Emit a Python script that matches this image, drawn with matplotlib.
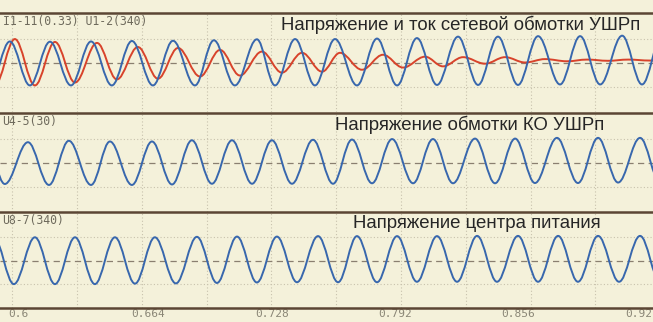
import numpy as np
import matplotlib.pyplot as plt
from matplotlib.path import Path
from matplotlib.patches import PathPatch

# extrema of each trace (time in s, value in grid units)
u12_t = [0.5907, 0.6010, 0.6114, 0.6218, 0.6327, 0.6431, 0.6539, 0.6643, 0.6752, 0.6856,
         0.6970, 0.7068, 0.7177, 0.7291, 0.7385, 0.7489, 0.7592, 0.7696, 0.7810, 0.7914,
         0.8018, 0.8121, 0.8225, 0.8334, 0.8438, 0.8541, 0.8645, 0.8749, 0.8863, 0.8967,
         0.9071, 0.9185, 0.9288, 0.9392]
u12_v = [-0.90, 0.90, -0.92, 0.89, -0.92, 0.90, -0.92, 0.92, -0.92, 0.93,
         -0.92, 0.95, -0.92, 0.99, -0.92, 1.00, -0.92, 1.00, -0.92, 1.02,
         -0.92, 1.04, -0.90, 1.10, -0.90, 1.10, -0.90, 1.12, -0.88, 1.12,
         -0.88, 1.14, -0.88, 1.14]

i111_t = [0.5933, 0.6036, 0.6140, 0.6244, 0.6348, 0.6462, 0.6565, 0.6674, 0.6778, 0.6882,
          0.6996, 0.7100, 0.7203, 0.7317, 0.7421, 0.7525, 0.7629, 0.7722, 0.7836, 0.7945,
          0.8049, 0.8163, 0.8256, 0.8360, 0.8474, 0.8578, 0.8682, 0.8785, 0.8899, 0.9003,
          0.9112, 0.9216, 0.9330, 0.9434]
i111_v = [-0.90, 1.00, -0.92, 0.88, -0.80, 0.84, -0.67, 0.67, -0.64, 0.63,
          -0.55, 0.55, -0.51, 0.48, -0.39, 0.43, -0.35, 0.43, -0.27, 0.35,
          -0.18, 0.27, -0.13, 0.25, -0.02, 0.25, 0.03, 0.17, 0.08, 0.15,
          0.10, 0.15, 0.11, 0.14]

u45_t = [0.5886, 0.5984, 0.6104, 0.6213, 0.6316, 0.6431, 0.6529, 0.6643, 0.6747, 0.6851,
         0.6954, 0.7058, 0.7162, 0.7266, 0.7369, 0.7473, 0.7582, 0.7686, 0.7784, 0.7888,
         0.7992, 0.8101, 0.8204, 0.8308, 0.8422, 0.8526, 0.8630, 0.8733, 0.8847, 0.8956,
         0.9060, 0.9164, 0.9278, 0.9382]
u45_v = [0.90, -0.86, 0.87, -0.90, 0.93, -0.90, 0.90, -0.90, 0.90, -0.88,
         0.95, -0.85, 0.95, -0.85, 0.95, -0.85, 0.97, -0.85, 0.98, -0.83,
         1.00, -0.83, 1.00, -0.83, 1.02, -0.83, 1.02, -0.82, 1.05, -0.82,
         1.05, -0.80, 1.05, -0.80]

u87_t = [0.5927, 0.6031, 0.6140, 0.6244, 0.6348, 0.6451, 0.6555, 0.6659, 0.6762, 0.6871,
         0.6980, 0.7084, 0.7188, 0.7291, 0.7395, 0.7499, 0.7608, 0.7712, 0.7810, 0.7914,
         0.8018, 0.8121, 0.8225, 0.8329, 0.8433, 0.8536, 0.8645, 0.8749, 0.8853, 0.8956,
         0.9060, 0.9169, 0.9278, 0.9382]
u87_v = [1.00, -1.00, 1.00, -1.00, 1.00, -1.00, 1.00, -0.98, 1.00, -0.97,
         1.02, -0.95, 1.03, -0.93, 1.03, -0.92, 1.05, -0.92, 1.05, -0.92,
         1.05, -0.90, 1.05, -0.90, 1.06, -0.90, 1.06, -0.90, 1.06, -0.90,
         1.06, -0.90, 1.06, -0.90]

tick_vals = [0.6, 0.664, 0.728, 0.792, 0.856, 0.92]
tick_labels = ["0.6", "0.664", "0.728", "0.792", "0.856", "0.92"]

channel_labels = ["I1-11(0.33) U1-2(340)", "U4-5(30)", "U8-7(340)"]
titles = ["Напряжение и ток сетевой обмотки УШРп",
          "Напряжение обмотки КО УШРп",
          "Напряжение центра питания"]

bg = "#f4f1da"
blue = "#3867ad"
red = "#d8432b"
border = "#5b4634"


def wave(t, v, a=0.364):
    # smooth half-waves between consecutive extrema (flat tangents at the extrema)
    verts = [(t[0], v[0])]
    codes = [Path.MOVETO]
    for i in range(len(t) - 1):
        dt = t[i + 1] - t[i]
        verts += [(t[i] + a * dt, v[i]), (t[i + 1] - a * dt, v[i + 1]), (t[i + 1], v[i + 1])]
        codes += [Path.CURVE4] * 3
    return Path(verts, codes)


fig = plt.figure(figsize=(6.53, 3.22), dpi=100, facecolor=bg)
rects = [[0, 0.6522, 1, 0.3075], [0, 0.3416, 1, 0.3075], [0, 0.0435, 1, 0.2981]]
traces = [[(i111_t, i111_v, red), (u12_t, u12_v, blue)],
          [(u45_t, u45_v, blue)],
          [(u87_t, u87_v, blue)]]
title_x = [0.430, 0.513, 0.540]

axes = []
for k in range(3):
    ax = fig.add_axes(rects[k], facecolor=bg)
    ax.set_xlim(0.5959, 0.9345)
    ax.set_ylim(-2.02, 2.08)
    for x in np.arange(0.6022, 0.93, 0.0336):
        ax.axvline(x, color="#c8c2ad", lw=0.8, ls=(0, (1, 2)), zorder=1)
    for y in (-1, 1):
        ax.axhline(y, color="#c8c2ad", lw=0.8, ls=(0, (1, 2)), zorder=1)
    ax.axhline(0, color="#8a7f70", lw=0.9, ls=(0, (5, 3.5)), zorder=1)
    for t, v, c in traces[k]:
        ax.add_patch(PathPatch(wave(t, v), facecolor="none", edgecolor=c, lw=1.4, zorder=3))
    ax.text(0.004, 0.975, channel_labels[k], transform=ax.transAxes, va="top", ha="left",
            family="DejaVu Sans Mono", fontsize=8.3, color="#6e6a5c")
    ax.text(title_x[k], 0.885, titles[k], transform=ax.transAxes, va="center", ha="left",
            family="Liberation Sans", fontsize=13.4, color="#262626", zorder=4)
    for s in ("left", "right", "bottom"):
        ax.spines[s].set_visible(False)
    ax.spines["top"].set_color(border)
    ax.spines["top"].set_linewidth(1.8)
    ax.set_yticks([])
    ax.set_xticks([])
    axes.append(ax)

ax = axes[2]
ax.spines["bottom"].set_visible(True)
ax.spines["bottom"].set_color(border)
ax.spines["bottom"].set_linewidth(1.8)
ax.set_xticks(tick_vals)
ax.set_xticklabels(tick_labels, family="DejaVu Sans Mono", fontsize=8, color="#8a8676")
ax.tick_params(axis="x", length=0, pad=0.5)
for lab in ax.get_xticklabels():
    lab.set_ha("left")

plt.savefig("out.png", dpi=100, facecolor=bg)
